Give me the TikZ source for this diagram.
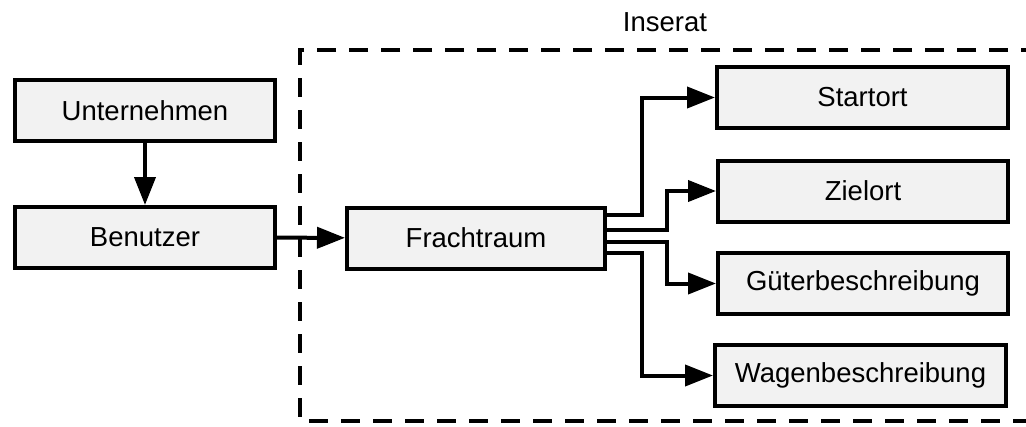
\documentclass[tikz,border=0pt]{standalone}
\usepackage{fontspec}
\setmainfont{Liberation Sans}
\usetikzlibrary{arrows.meta}
\tikzset{
  box/.style={draw=black, line width=4pt, fill=boxgray, inner sep=0pt,
    minimum height=61pt, font=\fontsize{27.5}{33}\selectfont},
  conn/.style={line width=4pt, -{Triangle[length=28pt,width=21pt]}},
  frame/.style={line width=4pt, dash pattern=on 19pt off 13pt},
}
\definecolor{boxgray}{HTML}{F2F2F2}
\begin{document}
\begin{tikzpicture}[x=1pt,y=-1pt]
\useasboundingbox (0,0) rectangle (1026,426);
\fill[white] (0,0) rectangle (1026,426);
% dashed frame (right side lies outside the picture)
\coordinate (ftr) at (1040,50);
\coordinate (ftl) at (300,50);
\coordinate (fbl) at (300,421);
\coordinate (fbr) at (1040,421);
\draw[frame] (ftr) -- (ftl) -- (fbl) -- (fbr);
\node[font=\fontsize{27.5}{33}\selectfont, inner sep=0pt] (ins) at (665,22) {Inserat};

\node[box, minimum width=260pt] (un) at (145,110.5) {Unternehmen};
\node[box, minimum width=260pt] (be) at (145,237.5) {Benutzer};
\node[box, minimum width=258pt] (fr) at (476,238) {Frachtraum};
\node[box, minimum width=291pt] (st) at (862.5,97.5) {Startort};
\node[box, minimum width=290pt] (zi) at (863,191) {Zielort};
\node[box, minimum width=290pt] (gu) at (863,283.5) {Güterbeschreibung};
\node[box, minimum width=291pt] (wa) at (860.5,375.5) {Wagenbeschreibung};

\draw[conn] (un) -- (be);
\draw[conn] (be) -- (fr);
\draw[conn] ([yshift=23pt]fr.east) -- ++(35,0) |- (st.west);
\draw[conn] ([yshift=8pt]fr.east) -- ++(60,0) |- (zi.west);
\draw[conn] ([yshift=-4pt]fr.east) -- ++(60,0) |- (gu.west);
\draw[conn] ([yshift=-15pt]fr.east) -- ++(35,0) |- (wa.west);
\end{tikzpicture}
\end{document}
